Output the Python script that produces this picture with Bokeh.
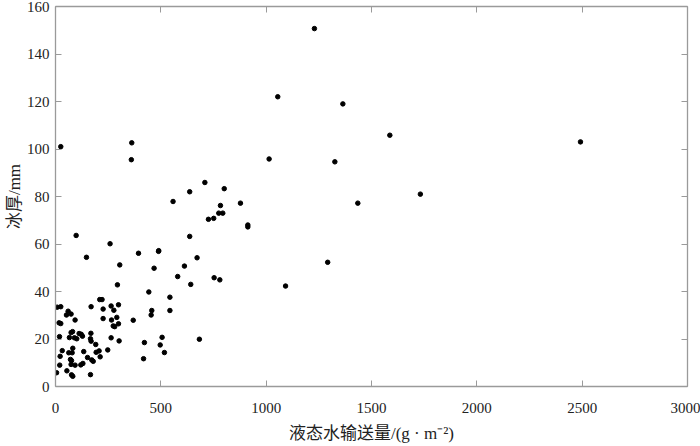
from bokeh.plotting import figure
from bokeh.models import Range1d, LinearAxis, FixedTicker
from bokeh.embed import file_html
from bokeh.resources import INLINE

# liquid water transport (g·m^-2) and ice thickness (mm)
x_vals = [1229, 1055, 1364, 1587, 1014, 1326, 1732, 878, 1435, 913, 913, 1292, 1092, 2492,
          709, 637, 801, 558, 783, 775, 794, 726, 751, 637, 490,
          394, 489, 672, 612, 468, 753, 780, 580, 642, 443, 543, 457, 454, 543, 369,
          506, 683, 422, 497, 517, 418,
          25, 362, 360, 98, 259, 147, 305, 294, 210, 221,
          8, 25, 60, 52, 74, 169, 226, 264, 299, 277,
          17, 25, 93, 226, 266, 291, 274, 281, 299,
          81, 74, 112, 122, 128, 168, 19, 66, 90, 101, 166, 169, 264, 302, 191,
          82, 32, 63, 79, 134, 193, 207, 248,
          22, 71, 76, 152, 172, 179, 212,
          74, 93, 20, 120, 130, 54, 5, 76, 82, 166]
y_vals = [150.7, 122, 119, 105.8, 95.8, 94.6, 81, 77.2, 77.2, 68, 67.2, 52.3, 42.3, 103,
          85.9, 82, 83.3, 77.9, 76.2, 73, 73, 70.4, 70.8, 63.2, 57.2,
          56.1, 56.9, 54.2, 50.7, 49.8, 45.8, 44.9, 46.3, 43, 39.8, 37.6, 32, 30.1, 32, 27.9,
          20.7, 19.9, 18.5, 17.5, 14.3, 11.7,
          101, 102.6, 95.5, 63.6, 60.1, 54.4, 51.2, 42.8, 36.6, 36.6,
          33.4, 33.6, 31.7, 30.1, 30.5, 33.6, 32.6, 33.9, 34.4, 32.1,
          26.8, 26.5, 28, 28.6, 28, 29.1, 25.5, 25.2, 26.4,
          23.1, 22.7, 22.3, 22, 21.2, 22.4, 21, 20.6, 20.5, 20.1, 20.1, 19.1, 20.5, 19.2, 17.7,
          16.1, 15.1, 14.2, 14.2, 14.7, 14.4, 15, 15.4,
          12.7, 11.4, 10.9, 12.2, 11.2, 10.6, 12.5,
          9.3, 9, 9, 9.1, 9.7, 6.6, 5.8, 4.9, 4.3, 5]

x_ticks = [0, 500, 1000, 1500, 2000, 2500, 3000]
y_ticks = [0, 20, 40, 60, 80, 100, 120, 140, 160]
x_title = "液态水输送量/(g · m⁻²)"
y_title = "冰厚/mm"

SERIF = "'Liberation Serif', 'Noto Sans CJK SC', serif"
AXIS_COLOR = "#9a9a9a"

p = figure(width=700, height=446, output_backend="svg", toolbar_location=None,
           x_range=Range1d(0, 3000), y_range=Range1d(0, 160),
           min_border_left=55, min_border_right=13, min_border_top=6, min_border_bottom=60,
           x_axis_location=None, y_axis_location=None)
p.outline_line_color = None
p.xgrid.visible = False
p.ygrid.visible = False
p.background_fill_color = "white"
p.border_fill_color = "white"

def style(ax):
    ax.axis_line_color = AXIS_COLOR
    ax.axis_line_width = 1.3
    ax.major_tick_line_color = AXIS_COLOR
    ax.major_tick_in = 6
    ax.major_tick_out = 0
    ax.minor_tick_line_color = None
    ax.major_label_text_font = SERIF
    ax.major_label_text_font_size = "15px"
    ax.major_label_text_color = "#222222"
    ax.axis_label_text_font = SERIF
    ax.axis_label_text_font_size = "17px"
    ax.axis_label_text_font_style = "normal"
    ax.axis_label_text_color = "#222222"

xb = LinearAxis(ticker=FixedTicker(ticks=x_ticks), axis_label=x_title)
style(xb)
xb.major_label_standoff = 16
xb.axis_label_standoff = 8
p.add_layout(xb, "below")

yl = LinearAxis(ticker=FixedTicker(ticks=y_ticks), axis_label=y_title)
style(yl)
yl.major_label_standoff = 6
yl.axis_label_standoff = 0
p.add_layout(yl, "left")

xt = LinearAxis(ticker=FixedTicker(ticks=x_ticks))
style(xt)
xt.major_label_overrides = {t: "" for t in x_ticks}
xt.major_label_standoff = 0
p.add_layout(xt, "above")

yr = LinearAxis(ticker=FixedTicker(ticks=y_ticks))
style(yr)
yr.major_label_overrides = {t: "" for t in y_ticks}
yr.major_label_standoff = 0
p.add_layout(yr, "right")

p.scatter(x=x_vals, y=y_vals, size=4.5, color="black")

open("out.html", "w").write(file_html(p, INLINE))
